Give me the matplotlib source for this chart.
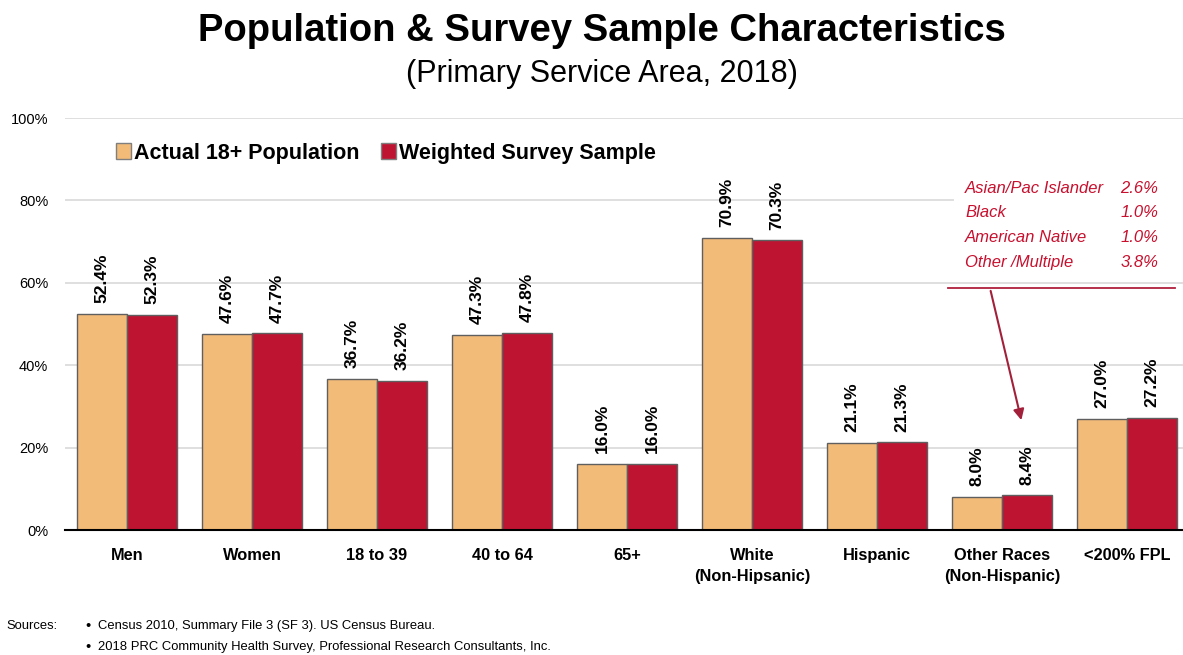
import matplotlib
matplotlib.use('Agg')
import matplotlib.pyplot as plt
from matplotlib.patches import Rectangle

plt.rcParams['font.family'] = ['Liberation Sans', 'DejaVu Sans']

# dados
categorias = ['Men', 'Women', '18 to 39', '40 to 64', '65+',
              'White\n(Non-Hipsanic)', 'Hispanic', 'Other Races\n(Non-Hispanic)', '<200% FPL']
populacao = [52.4, 47.6, 36.7, 47.3, 16.0, 70.9, 21.1, 8.0, 27.0]
amostra = [52.3, 47.7, 36.2, 47.8, 16.0, 70.3, 21.3, 8.4, 27.2]
series = ['Actual 18+ Population', 'Weighted Survey Sample']
y_ticks = [0, 20, 40, 60, 80, 100]

outras_racas = ['Asian/Pac Islander', 'Black', 'American Native', 'Other /Multiple']
outras_valores = ['2.6%', '1.0%', '1.0%', '3.8%']

fontes = ['Census 2010, Summary File 3 (SF 3). US Census Bureau.',
          '2018 PRC Community Health Survey, Professional Research Consultants, Inc.']

cor_pop = '#F3BB78'
cor_amostra = '#BE1432'
cor_texto_vermelho = '#C8102E'

fig = plt.figure(figsize=(11.83, 6.55), dpi=100)
W, H = 1183, 655
ax = fig.add_axes([65 / W, (H - 530) / H, (1183 - 65) / W, (530 - 118) / H])

x = list(range(len(categorias)))
larg = 0.4
b1 = ax.bar([i - larg / 2 for i in x], populacao, larg, color=cor_pop,
            edgecolor='#5f5f5f', linewidth=1.0, label=series[0], zorder=3)
b2 = ax.bar([i + larg / 2 for i in x], amostra, larg, color=cor_amostra,
            edgecolor='#5f5f5f', linewidth=1.0, label=series[1], zorder=3)

for barras, vals in ((b1, populacao), (b2, amostra)):
    for r, v in zip(barras, vals):
        ax.text(r.get_x() + r.get_width() / 2, v + 2.6, f'{v:.1f}%', rotation=90,
                ha='center', va='bottom', fontsize=12.5, fontweight='bold', zorder=4)

ax.set_xlim(-0.496, 8.448)
ax.set_ylim(0, 100)
ax.set_yticks(y_ticks)
ax.set_yticklabels([f'{t}%' for t in y_ticks], fontsize=10.5)
ax.set_xticks(x)
ax.set_xticklabels(categorias, fontsize=11.8, fontweight='bold', linespacing=1.5)
ax.tick_params(axis='both', length=0)
ax.tick_params(axis='x', pad=13)
ax.tick_params(axis='y', pad=12)
ax.yaxis.grid(True, color='#d9d9d9', linewidth=1.2)
ax.set_axisbelow(True)
for s in ('top', 'right', 'left'):
    ax.spines[s].set_visible(False)
ax.spines['bottom'].set_color('black')
ax.spines['bottom'].set_linewidth(1.5)
ax.spines['bottom'].set_zorder(5)

leg = ax.legend(loc='center left', bbox_to_anchor=(0.028, 0.915), ncol=2, frameon=False,
                handlelength=0.7, handleheight=0.7, handletextpad=0.15, columnspacing=1.0,
                prop={'size': 15.5, 'weight': 'bold'})
for h in leg.legend_handles:
    h.set_edgecolor('#7f7f7f')

# caixa das outras racas
ax.add_patch(Rectangle((6.62, 62.5), 1.83, 23.5, facecolor='white', edgecolor='none', zorder=1))
for k, (nome, val) in enumerate(zip(outras_racas, outras_valores)):
    yy = 83.0 - 6.05 * k
    ax.text(6.704, yy, nome, color=cor_texto_vermelho, fontsize=12, style='italic',
            ha='left', va='center', zorder=4)
    ax.text(8.248, yy, val, color=cor_texto_vermelho, fontsize=12, style='italic',
            ha='right', va='center', zorder=4)
ax.plot([6.568, 8.384], [58.7, 58.7], color='#B0203C', linewidth=1.3, zorder=4)
ax.annotate('', xy=(7.16, 26.0), xytext=(6.904, 58.7),
            arrowprops=dict(arrowstyle='-|>', color='#A3203A', lw=1.5, mutation_scale=16), zorder=4)

fig.text(602 / W, 1 - 31 / H, 'Population & Survey Sample Characteristics',
         ha='center', va='center', fontsize=27.5, fontweight='bold')
fig.text(602 / W, 1 - 74 / H, '(Primary Service Area, 2018)',
         ha='center', va='center', fontsize=22)

fig.text(6 / W, 1 - 626 / H, 'Sources:', fontsize=9.4, va='center')
for k, f in enumerate(fontes):
    yy = 1 - (626 + 21 * k) / H
    fig.text(85 / W, yy, '\u2022', fontsize=10.5, va='center')
    fig.text(98 / W, yy, f, fontsize=9.4, va='center')

fig.savefig('out.png', dpi=100)
